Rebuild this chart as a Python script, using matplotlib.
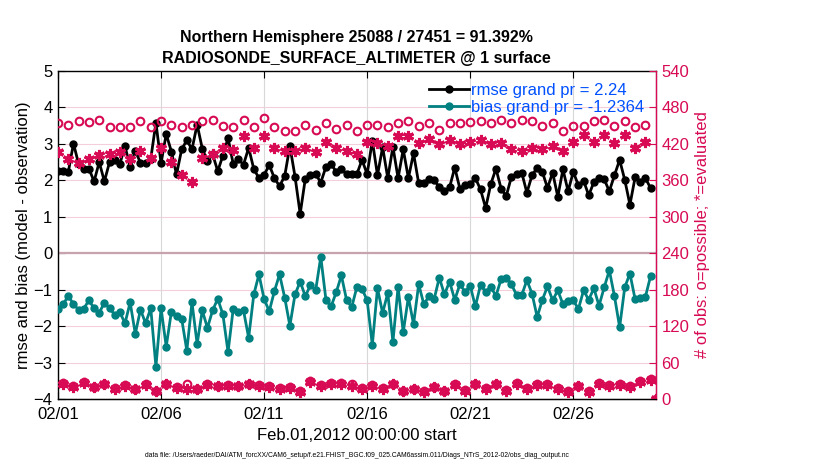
import numpy as np
import pandas as pd
import matplotlib
matplotlib.use("Agg")
import matplotlib.pyplot as plt
import matplotlib.dates as mdates

plt.rcParams["font.family"] = ["Liberation Sans", "DejaVu Sans"]

# ── data (6-hourly bins, Feb 2012) ────────────────────────────────────────────
bin_times = pd.date_range("2012-02-01 00:00", "2012-03-01 00:00", freq="6h")

rmse = [2.26, 2.25, 2.23, 3.01, 2.45, 2.32, 2.32, 1.97, 2.50, 1.97,
        2.50, 2.56, 2.45, 2.94, 2.36, 2.81, 2.48, 2.47, 2.59, 3.58,
        2.47, 3.27, 2.79, 2.16, 2.85, 3.10, 2.85, 3.53, 2.87, 2.52,
        2.72, 2.25, 2.68, 3.16, 2.45, 2.58, 2.43, 2.89, 2.31, 2.06,
        2.15, 2.42, 2.06, 1.84, 2.12, 2.94, 2.10, 1.08, 2.05, 2.14,
        2.17, 1.94, 2.37, 2.45, 2.23, 2.30, 2.17, 2.17, 2.17, 2.56,
        2.17, 3.09, 2.14, 2.91, 2.06, 2.92, 2.06, 2.85, 2.06, 2.74,
        1.92, 1.92, 2.03, 2.01, 1.81, 1.70, 1.81, 2.35, 1.77, 1.88,
        1.89, 2.06, 1.75, 1.24, 1.90, 2.32, 1.77, 1.57, 2.10, 2.16,
        2.21, 1.66, 2.14, 2.34, 2.23, 1.79, 2.21, 1.55, 2.30, 1.70,
        2.23, 1.86, 1.99, 1.59, 1.95, 2.06, 2.03, 1.70, 2.14, 2.56,
        2.01, 1.33, 2.08, 1.95, 2.06, 1.79, np.nan]

bias = [-1.52, -1.40, -1.17, -1.40, -1.55, -1.52, -1.29, -1.51, -1.63, -1.36,
        -1.51, -1.69, -1.62, -1.92, -1.35, -2.21, -1.55, -1.92, -1.51, -3.11,
        -1.51, -2.56, -1.61, -1.73, -1.80, -2.67, -1.35, -2.49, -1.57, -2.05,
        -1.57, -1.25, -1.68, -2.71, -1.53, -1.62, -1.57, -2.32, -1.13, -0.58,
        -1.26, -1.59, -1.04, -0.58, -1.22, -1.99, -1.13, -0.78, -1.18, -0.87,
        -1.02, -0.10, -1.28, -1.46, -1.07, -0.61, -1.28, -1.48, -0.93, -0.98,
        -1.29, -2.52, -0.96, -1.64, -1.09, -2.43, -0.93, -2.17, -1.20, -1.95,
        -0.85, -1.40, -1.18, -1.26, -0.67, -1.13, -0.78, -1.28, -0.85, -1.06,
        -0.89, -1.46, -0.87, -1.06, -0.93, -1.17, -0.71, -0.67, -0.85, -1.15,
        -1.15, -0.74, -1.11, -1.75, -1.28, -0.91, -1.29, -1.02, -1.40, -1.31,
        -1.29, -1.53, -1.02, -1.28, -0.96, -1.44, -0.94, -0.47, -1.18, -2.03,
        -0.93, -0.56, -1.26, -1.24, -1.20, -0.63, np.nan]

n_possible = [455, 26, 451, 21, 458, 28, 456, 20, 459, 25,
              448, 18, 448, 23, 448, 17, 458, 24, 447, 14,
              458, 25, 451, 19, 447, 24, 451, 17, 458, 24,
              460, 22, 450, 23, 447, 22, 460, 25, 447, 23,
              462, 21, 447, 18, 441, 19, 441, 13, 451, 29,
              443, 23, 455, 26, 445, 26, 451, 24, 442, 18,
              451, 23, 451, 18, 447, 25, 455, 14, 458, 17,
              449, 13, 455, 20, 443, 14, 455, 24, 454, 15,
              456, 25, 457, 18, 455, 25, 460, 15, 455, 26,
              460, 18, 458, 24, 450, 24, 455, 18, 442, 13,
              450, 22, 450, 13, 457, 26, 459, 23, 449, 24,
              457, 21, 447, 29, 451, 33, 0]

n_evaluated = [407, 25, 395, 20, 388, 27, 395, 19, 401, 24,
               404, 17, 407, 22, 395, 16, 408, 23, 396, 13,
               414, 24, 390, 18, 369, 17, 358, 16, 396, 23,
               403, 21, 414, 22, 410, 21, 433, 24, 414, 22,
               433, 20, 413, 17, 409, 18, 408, 12, 414, 28,
               407, 22, 423, 25, 413, 25, 408, 22, 403, 17,
               423, 22, 421, 17, 416, 24, 433, 13, 433, 16,
               421, 12, 428, 19, 420, 13, 427, 23, 419, 14,
               423, 24, 427, 17, 419, 24, 421, 14, 411, 25,
               409, 17, 414, 23, 412, 23, 416, 17, 409, 12,
               423, 21, 434, 12, 423, 25, 435, 22, 421, 23,
               435, 20, 413, 28, 423, 32, 0]

tick_dates = ["2012-02-01", "2012-02-06", "2012-02-11",
              "2012-02-16", "2012-02-21", "2012-02-26"]

TITLE = ["Northern Hemisphere 25088 / 27451 = 91.392%",
         "RADIOSONDE_SURFACE_ALTIMETER @ 1 surface"]
DATA_FILE = ("data file: /Users/raeder/DAI/ATM_forcXX/CAM6_setup/"
             "f.e21.FHIST_BGC.f09_025.CAM6assim.011/Diags_NTrS_2012-02/"
             "obs_diag_output.nc")

PINK = "#D70A53"
TEAL = "#008080"
BLUE = "#0050FF"

fig = plt.figure(figsize=(8.3, 4.7), dpi=100)
ax = fig.add_axes([0.0699, 0.151, 0.7201, 0.698])
ax2 = ax.twinx()

# left axis: rmse and bias
ax.axhline(0, color="#c8a3ad", lw=1.6, zorder=1)
ax.plot(bin_times, rmse, color="black", lw=2.0, marker="o", ms=5,
        label="rmse grand pr = 2.24", zorder=4)
ax.plot(bin_times, bias, color=TEAL, lw=2.0, marker="o", ms=5,
        label="bias grand pr = -1.2364", zorder=4)

# right axis: observation counts
ax2.plot(bin_times, n_possible, ls="none", marker="o", ms=5.5, mfc="none",
         mec=PINK, mew=1.5)
ax2.plot(bin_times, n_evaluated, ls="none", marker=(6, 2, 0), ms=8,
         mec=PINK, mew=2.2)

ax.set_ylim(-4, 5)
ax.set_yticks(range(-4, 6))
ax2.set_ylim(0, 540)
ax2.set_yticks(range(0, 541, 60))

ax.set_xlim(pd.Timestamp("2012-02-01"), pd.Timestamp("2012-03-01"))
ax.set_xticks([pd.Timestamp(d) for d in tick_dates])
ax.xaxis.set_major_formatter(mdates.DateFormatter("%m/%d"))

# grid: pink horizontals, grey verticals
for yv in range(-4, 6):
    ax.axhline(yv, color="#f4cfdb", lw=0.8, zorder=0)
ax.grid(True, axis="x", color="#d8d8d8", lw=0.8)
ax.set_axisbelow(True)

ax.tick_params(axis="both", direction="in", length=5, labelsize=12, pad=4)
ax.tick_params(axis="x", top=True, pad=6)
ax2.tick_params(axis="y", direction="in", length=5, labelsize=12,
                colors=PINK, pad=4)
ax2.spines["right"].set_color(PINK)
ax2.spines["right"].set_linewidth(1.0)
for s in ["left", "bottom", "top"]:
    ax.spines[s].set_linewidth(1.0)
ax2.spines["top"].set_visible(False)
ax2.spines["left"].set_visible(False)

ax.set_ylabel("rmse and bias (model - observation)", fontsize=12, labelpad=2)
ax2.set_ylabel("# of obs: o=possible; *=evaluated", fontsize=12,
               color=PINK, labelpad=4)
ax.set_xlabel("Feb.01,2012 00:00:00 start", fontsize=12, labelpad=4)

# two-line bold title, placed by baseline
fig.text(0.429, 0.911, TITLE[0], fontsize=11.5, fontweight="bold",
         ha="center", va="baseline")
fig.text(0.429, 0.867, TITLE[1], fontsize=11.5, fontweight="bold",
         ha="center", va="baseline")

leg = ax.legend(loc="upper right", bbox_to_anchor=(1.0, 1.0), frameon=False,
                fontsize=12, handlelength=2.4, handletextpad=0.1,
                borderaxespad=0.3, labelspacing=0.15, labelcolor=BLUE)
leg.set_zorder(10)

fig.text(0.43, 0.03, DATA_FILE, fontsize=4.9, ha="center", va="center")

fig.savefig("out.png", dpi=100)
